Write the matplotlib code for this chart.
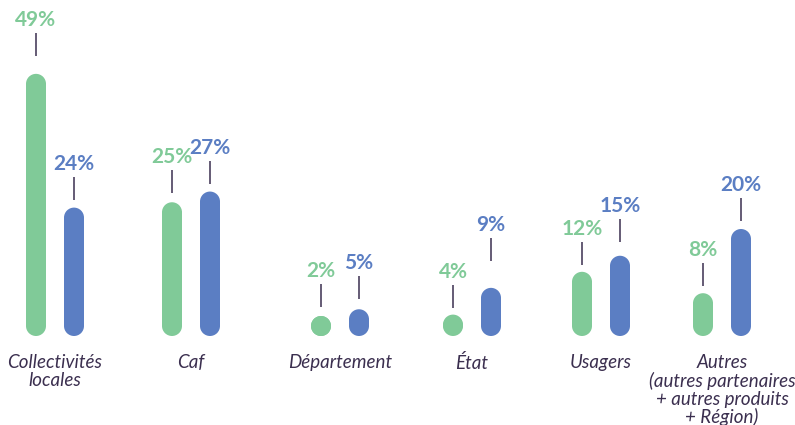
import matplotlib.pyplot as plt
from matplotlib.patches import Ellipse, Rectangle

# données
categories = ["Collectivités\nlocales", "Caf", "Département", "État", "Usagers",
              "Autres\n(autres partenaires\n+ autres produits\n+ Région)"]
serie_verte = [49, 25, 2, 4, 12, 8]
serie_bleue = [24, 27, 5, 9, 15, 20]

# mise en page (en pixels)
centres = [55, 191, 340, 472, 601, 722]
ecart = 19
largeur = 20
px = 5.35          # pixels par point de %
base = 89          # ligne de base depuis le bas
# espace entre le haut de la barre et le trait du libellé
espace_vert = [18, 9, 9, 7, 7, 7]
espace_bleu = [8, 8, 10, 27, 14, 8]

vert = "#80ca98"
bleu = "#5b7ec3"
trait = "#4a3f5e"
texte = "#3b2f4f"

fig = plt.figure(figsize=(7.95, 4.25), dpi=100)
ax = fig.add_axes([0, 0, 1, 1])
ax.set_xlim(0, 795)
ax.set_ylim(-base / px, (425 - base) / px)
ax.axis("off")


def barre(x, v, couleur, espace):
    h = max(v * px, largeur) / px
    r = largeur / 2 / px
    # pilule : deux demi-cercles + un rectangle
    ax.add_patch(Ellipse((x, r), largeur, 2 * r, facecolor=couleur, edgecolor="none"))
    ax.add_patch(Ellipse((x, h - r), largeur, 2 * r, facecolor=couleur, edgecolor="none"))
    if h - 2 * r > 0:
        ax.add_patch(Rectangle((x - largeur / 2, r), largeur, h - 2 * r,
                               facecolor=couleur, edgecolor="none"))
    y0 = h + espace / px
    y1 = y0 + 23 / px
    ax.plot([x, x], [y0, y1], color=trait, lw=1.2, solid_capstyle="butt")
    ax.text(x, y1 + 13 / px, f"{v}%", ha="center", va="center",
            color=couleur, fontsize=15, fontweight="bold", family="Lato")


for i, c in enumerate(centres):
    barre(c - ecart, serie_verte[i], vert, espace_vert[i])
    barre(c + ecart, serie_bleue[i], bleu, espace_bleu[i])
    ax.text(c, -18 / px, categories[i], ha="center", va="top",
            color=texte, fontsize=13.5, style="italic", family="Lato",
            linespacing=1.05)

fig.savefig("out.png", dpi=100)
